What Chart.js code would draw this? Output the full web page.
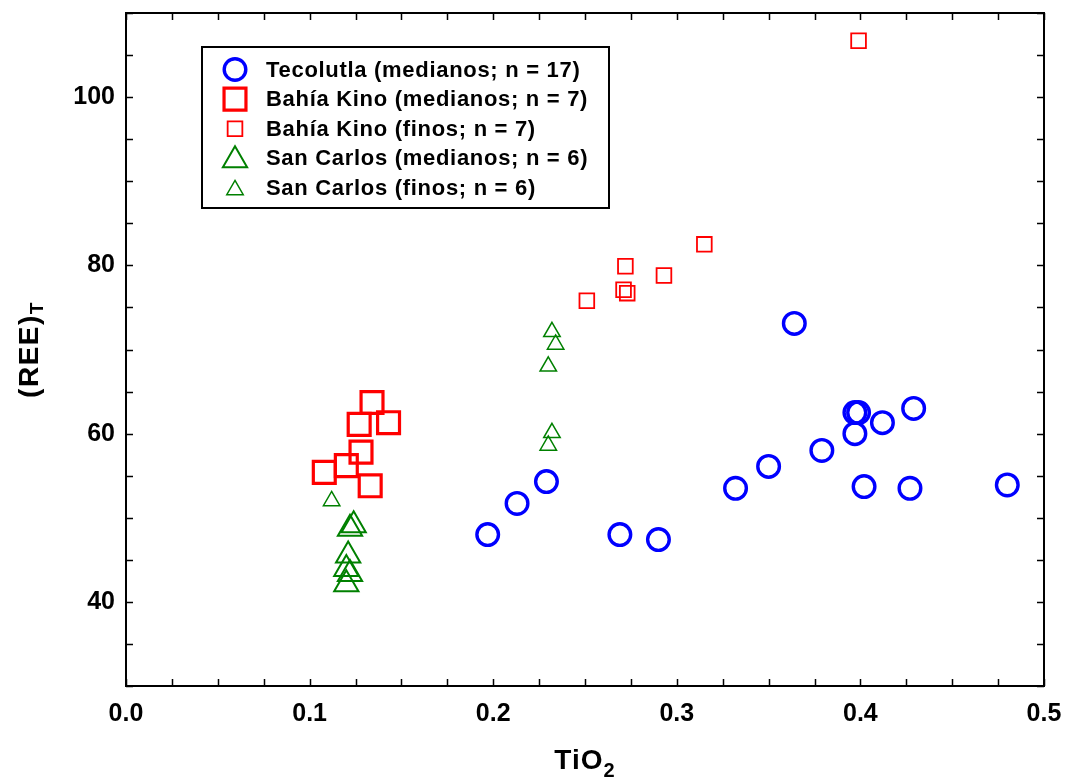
<!DOCTYPE html>
<html>
<head>
<meta charset="utf-8">
<script src="https://cdn.jsdelivr.net/npm/chart.js@4.4.1/dist/chart.umd.min.js"></script>
<style>
  html, body { margin: 0; padding: 0; background: #fff; }
  canvas { display: block; }
</style>
</head>
<body>
<canvas id="chart" width="1065" height="782"></canvas>
<script>

/***************************************************/
/********************* DATA ************************/
/***************************************************/
var tecolutlaTiO2 = [0.197, 0.213, 0.229, 0.269, 0.290, 0.332, 0.350, 0.364, 0.379, 0.397, 0.399, 0.397, 0.402, 0.412, 0.429, 0.427, 0.480];
var tecolutlaREE  = [48.0, 51.7, 54.3, 48.0, 47.4, 53.5, 56.1, 73.1, 58.0, 62.5, 62.5, 60.0, 53.7, 61.3, 63.0, 53.5, 53.9];

var kinoMedTiO2 = [0.134, 0.127, 0.143, 0.128, 0.120, 0.108, 0.133];
var kinoMedREE  = [63.7, 61.1, 61.3, 57.8, 56.2, 55.4, 53.8];

var kinoFinTiO2 = [0.315, 0.272, 0.293, 0.271, 0.273, 0.251, 0.399];
var kinoFinREE  = [82.5, 79.9, 78.8, 77.1, 76.7, 75.8, 106.7];

var carlosMedTiO2 = [0.124, 0.122, 0.121, 0.120, 0.122, 0.120];
var carlosMedREE  = [49.1, 48.7, 45.5, 43.9, 43.3, 42.1];

var carlosFinTiO2 = [0.232, 0.234, 0.230, 0.232, 0.230, 0.112];
var carlosFinREE  = [72.1, 70.6, 68.0, 60.1, 58.6, 52.0];

var seriesLabels = [
    'Tecolutla (medianos; n = 17)',
    'Bahía Kino (medianos; n = 7)',
    'Bahía Kino (finos; n = 7)',
    'San Carlos (medianos; n = 6)',
    'San Carlos (finos; n = 6)'
];

var xTickLabels = ['0.0', '0.1', '0.2', '0.3', '0.4', '0.5'];
var yTickLabels = [40, 60, 80, 100];

var fontFamily = '"Liberation Sans", Arial, Helvetica, sans-serif';
var blue = '#0000ff';
var red = '#ff0000';
var green = '#008000';

function toPoints(xs, ys) {
    return xs.map(function (x, i) { return { x: x, y: ys[i] }; });
}

function makeSet(label, xs, ys, style, radius, width, color) {
    return {
        label: label,
        data: toPoints(xs, ys),
        pointStyle: style,
        pointRadius: radius,
        pointHoverRadius: radius,
        pointBorderWidth: width,
        pointBorderColor: color,
        pointBackgroundColor: 'rgba(0,0,0,0)',
        showLine: false
    };
}

/***************************************************/
/************ FRAME, INWARD TICKS, TITLES **********/
/***************************************************/
var frameAndTitles = {
    id: 'frameAndTitles',
    afterDraw: function (chart) {
        var ctx = chart.ctx;
        var a = chart.chartArea;
        var xs = chart.scales.x;
        var ys = chart.scales.y;
        var tickLen = 7;

        ctx.save();
        ctx.strokeStyle = '#000';
        ctx.lineWidth = 1.5;
        ctx.beginPath();
        xs.ticks.forEach(function (t) {
            var px = Math.round(xs.getPixelForValue(t.value)) + 0.5;
            ctx.moveTo(px, a.bottom); ctx.lineTo(px, a.bottom - tickLen);
            ctx.moveTo(px, a.top); ctx.lineTo(px, a.top + tickLen);
        });
        ys.ticks.forEach(function (t) {
            var py = Math.round(ys.getPixelForValue(t.value)) + 0.5;
            ctx.moveTo(a.left, py); ctx.lineTo(a.left + tickLen, py);
            ctx.moveTo(a.right, py); ctx.lineTo(a.right - tickLen, py);
        });
        ctx.stroke();

        // plot frame
        ctx.lineWidth = 2;
        ctx.strokeRect(a.left, a.top, a.right - a.left, a.bottom - a.top);

        // x title: TiO2
        ctx.fillStyle = '#000';
        ctx.textBaseline = 'alphabetic';
        ctx.textAlign = 'left';
        ctx.font = 'bold 28px ' + fontFamily;
        if ('letterSpacing' in ctx) ctx.letterSpacing = '1px';
        var mainW = ctx.measureText('TiO').width;
        ctx.font = 'bold 20px ' + fontFamily;
        var subW = ctx.measureText('2').width;
        var cx = (a.left + a.right) / 2;
        var x0 = cx - (mainW + subW) / 2;
        ctx.font = 'bold 28px ' + fontFamily;
        ctx.fillText('TiO', x0, 769);
        ctx.font = 'bold 20px ' + fontFamily;
        ctx.fillText('2', x0 + mainW, 777);

        // y title: (REE)T
        ctx.save();
        ctx.translate(38, (a.top + a.bottom) / 2);
        ctx.rotate(-Math.PI / 2);
        ctx.font = 'bold 28px ' + fontFamily;
        if ('letterSpacing' in ctx) ctx.letterSpacing = '1.5px';
        var w1 = ctx.measureText('(REE)').width;
        ctx.font = 'bold 19px ' + fontFamily;
        var w2 = ctx.measureText('T').width;
        var start = -(w1 + w2) / 2;
        ctx.font = 'bold 28px ' + fontFamily;
        ctx.fillText('(REE)', start, 0);
        ctx.font = 'bold 19px ' + fontFamily;
        ctx.fillText('T', start + w1, 5);
        ctx.restore();

        ctx.restore();
    }
};

/***************************************************/
/***************** LEGEND (INSIDE) *****************/
/***************************************************/
function drawMarker(ctx, ds, x, y) {
    ctx.save();
    ctx.strokeStyle = ds.pointBorderColor;
    ctx.fillStyle = 'rgba(0,0,0,0)';
    ctx.lineWidth = ds.pointBorderWidth;
    var opts = { pointStyle: ds.pointStyle, radius: ds.pointRadius, rotation: 0, borderWidth: ds.pointBorderWidth };
    if (Chart.helpers && Chart.helpers.drawPoint) {
        Chart.helpers.drawPoint(ctx, opts, x, y);
    } else {
        var r = ds.pointRadius;
        ctx.beginPath();
        if (ds.pointStyle === 'circle') {
            ctx.arc(x, y, r, 0, Math.PI * 2);
        } else if (ds.pointStyle === 'rect') {
            var s = r * Math.SQRT1_2;
            ctx.rect(x - s, y - s, 2 * s, 2 * s);
        } else {
            ctx.moveTo(x, y - r);
            ctx.lineTo(x + r * 0.866, y + r / 2);
            ctx.lineTo(x - r * 0.866, y + r / 2);
            ctx.closePath();
        }
        ctx.stroke();
    }
    ctx.restore();
}

var legendInside = {
    id: 'legendInside',
    afterDraw: function (chart) {
        var ctx = chart.ctx;
        var a = chart.chartArea;
        var left = a.left + 76, top = a.top + 34, width = 407, height = 161;
        var rowH = 29.6, firstRow = 22.5;

        ctx.save();
        ctx.fillStyle = '#fff';
        ctx.fillRect(left, top, width, height);
        ctx.strokeStyle = '#000';
        ctx.lineWidth = 2;
        ctx.strokeRect(left, top, width, height);

        chart.data.datasets.forEach(function (ds, i) {
            var y = top + firstRow + i * rowH;
            drawMarker(ctx, ds, left + 33, ds.pointStyle === 'triangle' ? y + 2 : y);
            ctx.fillStyle = '#000';
            ctx.font = 'bold 22px ' + fontFamily;
            if ('letterSpacing' in ctx) ctx.letterSpacing = '0.7px';
            ctx.textBaseline = 'middle';
            ctx.textAlign = 'left';
            ctx.fillText(ds.label, left + 64, y + 1);
        });
        ctx.restore();
    }
};

/***************************************************/
/******************** CHART ************************/
/***************************************************/
var data = {
    datasets: [
        makeSet(seriesLabels[0], tecolutlaTiO2, tecolutlaREE, 'circle', 10.8, 3.4, blue),
        makeSet(seriesLabels[1], kinoMedTiO2, kinoMedREE, 'rect', 15.5, 3.2, red),
        makeSet(seriesLabels[2], kinoFinTiO2, kinoFinREE, 'rect', 10.4, 1.8, red),
        makeSet(seriesLabels[3], carlosMedTiO2, carlosMedREE, 'triangle', 14, 2, green),
        makeSet(seriesLabels[4], carlosFinTiO2, carlosFinREE, 'triangle', 9.5, 1.5, green)
    ]
};

var tickFont = { family: fontFamily, size: 25, weight: 'bold' };

var options = {
    responsive: false,
    animation: false,
    events: [],
    layout: {
        autoPadding: false,
        padding: { top: 13, right: 21, left: 0, bottom: 0 }
    },
    plugins: {
        legend: { display: false },
        tooltip: { enabled: false }
    },
    scales: {
        x: {
            type: 'linear',
            min: 0,
            max: 0.5,
            grid: { display: false, drawTicks: false },
            border: { display: false },
            ticks: {
                stepSize: 0.025,
                autoSkip: false,
                maxRotation: 0,
                padding: 13,
                color: '#000',
                font: tickFont,
                callback: function (v) {
                    var s = v.toFixed(1);
                    return Math.abs(v * 10 - Math.round(v * 10)) < 1e-6 && xTickLabels.indexOf(s) >= 0 ? s : '';
                }
            },
            afterFit: function (scale) {
                scale.height = 96;
                scale.paddingLeft = 0;
                scale.paddingRight = 0;
            }
        },
        y: {
            type: 'linear',
            min: 30,
            max: 110,
            grid: { display: false, drawTicks: false },
            border: { display: false },
            ticks: {
                stepSize: 5,
                autoSkip: false,
                padding: 11,
                color: '#000',
                font: tickFont,
                callback: function (v) {
                    return yTickLabels.indexOf(v) >= 0 ? String(v) : '';
                }
            },
            afterFit: function (scale) {
                scale.width = 126;
                scale.paddingTop = 0;
                scale.paddingBottom = 0;
            }
        }
    }
};

var canvas = document.getElementById('chart').getContext('2d');
var scatterChart = new Chart(canvas, {
    type: 'scatter',
    data: data,
    options: options,
    plugins: [frameAndTitles, legendInside]
});
</script>
</body>
</html>
